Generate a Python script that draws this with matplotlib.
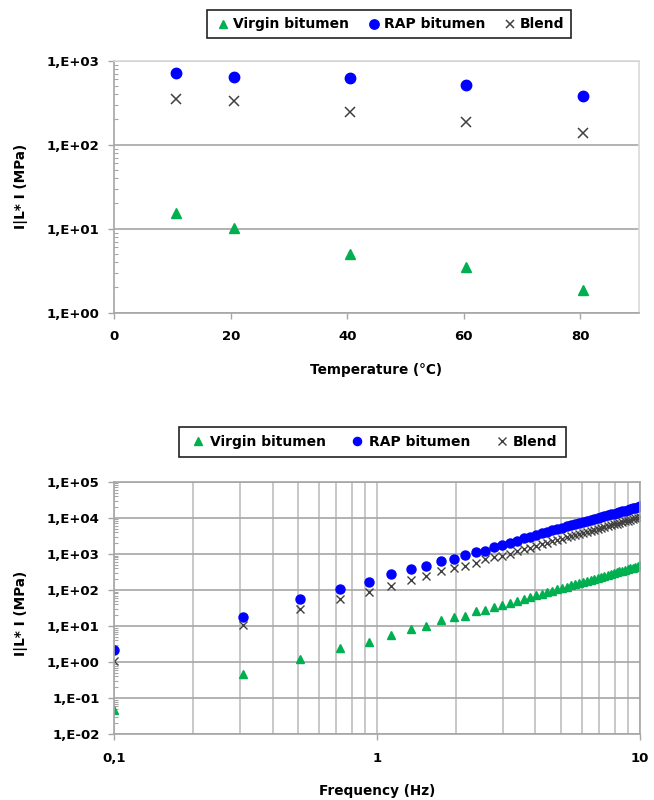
import numpy as np
import matplotlib
matplotlib.use("Agg")
import matplotlib.pyplot as plt
import matplotlib.ticker as mticker

plt.rcParams["font.family"] = ["DejaVu Sans"]
plt.rcParams["font.weight"] = "bold"
plt.rcParams["axes.labelweight"] = "bold"

# ── DATA: temperature sweep ─────────────────────────────────
temperature = [10.6, 20.6, 40.5, 60.4, 80.4]
virgin_T = [15.4, 10.3, 5.0, 3.46, 1.88]
rap_T = [713, 645, 617, 509, 380]
blend_T = [347, 334, 248, 185, 139]

# ── DATA: frequency sweep ───────────────────────────────────
frequency = [0.10, 0.31, 0.51, 0.72, 0.93, 1.13, 1.34, 1.54, 1.75, 1.96,
             2.16, 2.37, 2.58, 2.78, 2.99, 3.19, 3.40, 3.61, 3.81, 4.02,
             4.23, 4.43, 4.64, 4.84, 5.05, 5.26, 5.46, 5.67, 5.88, 6.08,
             6.29, 6.49, 6.70, 6.91, 7.11, 7.32, 7.53, 7.73, 7.94, 8.14,
             8.35, 8.56, 8.76, 8.97, 9.18, 9.38, 9.59, 9.79, 10.00]
virgin_f = [0.048, 0.46, 1.23, 2.45, 3.7, 5.75, 8.3, 10.2, 14.8, 17.4,
            19.5, 25.7, 28.2, 34.7, 38.0, 42.7, 48.0, 56.0, 63.0, 70.5,
            78.0, 86.0, 95.0, 104, 114, 124, 134, 146, 157, 169,
            181, 193, 206, 220, 234, 249, 264, 279, 295, 311,
            328, 344, 361, 381, 400, 418, 438, 458, 479]
rap_f = [2.2, 18, 55, 107, 170, 275, 370, 470, 650, 740,
         910, 1120, 1200, 1590, 1800, 2050, 2300, 2700, 3000, 3350,
         3700, 4070, 4480, 4870, 5300, 5750, 6200, 6700, 7180, 7700,
         8240, 8750, 9330, 9900, 10500, 11200, 11800, 12400, 13100, 13800,
         14500, 15200, 15900, 16700, 17500, 18300, 19100, 19900, 20800]
blend_f = [1.1, 10.5, 29, 55, 87, 132, 186, 240, 325, 410,
           460, 560, 740, 830, 890, 980, 1175, 1336, 1490, 1650,
           1830, 2010, 2220, 2410, 2620, 2850, 3070, 3320, 3570, 3820,
           4090, 4350, 4650, 4930, 5250, 5570, 5890, 6190, 6550, 6900,
           7260, 7600, 7960, 8370, 8790, 9160, 9590, 10000, 10400]

GREEN = "#00b050"
BLUE = "#0000ff"
GREY = "#404040"
GRID = "#a6a6a6"
YLABEL = "I|L* I (MPa)"


def excel_exp(v, pos):
    e = int(round(np.log10(v)))
    return f"1,E{e:+03d}"


def style_axes(ax):
    ax.set_yscale("log")
    ax.yaxis.set_major_formatter(mticker.FuncFormatter(excel_exp))
    ax.yaxis.set_minor_locator(mticker.LogLocator(base=10, subs=np.arange(2, 10)))
    ax.yaxis.set_minor_formatter(mticker.NullFormatter())
    ax.tick_params(axis="y", which="major", direction="out", length=4.5,
                   width=1, color=GRID, pad=6, labelsize=9.5)
    ax.tick_params(axis="y", which="minor", direction="in", length=3,
                   width=0.8, color=GRID)
    ax.tick_params(axis="x", which="major", direction="out", length=4.5,
                   width=1, color=GRID, pad=8, labelsize=9.5)


fig = plt.figure(figsize=(6.54, 8.0), dpi=100)

# ── CHART 1: modulus vs temperature ─────────────────────────
ax1 = fig.add_axes([0.1748, 0.6091, 0.8017, 0.315])
ax1.plot(temperature, virgin_T, "^", color=GREEN, ms=7, label="Virgin bitumen")
ax1.plot(temperature, rap_T, "o", color=BLUE, ms=7.5, label="RAP bitumen")
ax1.plot(temperature, blend_T, "x", color=GREY, ms=6.5, mew=1.1, label="Blend")
ax1.set_xlim(0, 90)
ax1.set_ylim(1, 1000)
ax1.set_xticks([0, 20, 40, 60, 80])
style_axes(ax1)
ax1.grid(axis="y", which="major", color=GRID, lw=1.2)
ax1.spines[["left", "bottom"]].set_color(GRID)
ax1.spines[["top", "right"]].set_color("#d9d9d9")
for s in ax1.spines.values():
    s.set_linewidth(1.2)
ax1.set_xlabel("Temperature (°C)", fontsize=9.8, fontweight="bold")
ax1.xaxis.set_label_coords(0.5, -0.2)
ax1.set_ylabel(YLABEL, fontsize=9.8, fontweight="bold")
ax1.yaxis.set_label_coords(-0.165, 0.5)
leg1 = ax1.legend(loc="center", bbox_to_anchor=(0.524, 1.144), ncol=3,
                  fancybox=False, edgecolor="#222222", framealpha=1,
                  fontsize=10, handletextpad=0.0, columnspacing=1.1,
                  handlelength=1.4, borderpad=0.5, markerscale=0.9)
leg1.get_frame().set_linewidth(1.2)

# ── CHART 2: modulus vs frequency ───────────────────────────
ax2 = fig.add_axes([0.1748, 0.0821, 0.8038, 0.3158])
ax2.plot(frequency, virgin_f, "^", color=GREEN, ms=6, label="Virgin bitumen")
ax2.plot(frequency, rap_f, "o", color=BLUE, ms=6.5, label="RAP bitumen")
ax2.plot(frequency, blend_f, "x", color=GREY, ms=6, mew=1.0, label="Blend")
ax2.set_xscale("log")
ax2.set_xlim(0.1, 10)
ax2.set_ylim(0.01, 1e5)
ax2.xaxis.set_major_locator(mticker.FixedLocator([0.1, 1, 10]))
ax2.xaxis.set_major_formatter(mticker.FixedFormatter(["0,1", "1", "10"]))
ax2.xaxis.set_minor_locator(mticker.LogLocator(base=10, subs=np.arange(2, 10)))
ax2.xaxis.set_minor_formatter(mticker.NullFormatter())
ax2.tick_params(axis="x", which="minor", length=0)
style_axes(ax2)
ax2.grid(axis="y", which="major", color=GRID, lw=1.2)
ax2.grid(axis="x", which="both", color="#bfbfbf", lw=1.2)
ax2.set_axisbelow(True)
for s in ax2.spines.values():
    s.set_color(GRID)
    s.set_linewidth(1.2)
ax2.set_xlabel("Frequency (Hz)", fontsize=9.8, fontweight="bold")
ax2.xaxis.set_label_coords(0.5, -0.195)
ax2.set_ylabel(YLABEL, fontsize=9.8, fontweight="bold")
ax2.yaxis.set_label_coords(-0.165, 0.48)
leg2 = ax2.legend(loc="center", bbox_to_anchor=(0.491, 1.157), ncol=3,
                  fancybox=False, edgecolor="#222222", framealpha=1,
                  fontsize=10, handletextpad=0.0, columnspacing=1.5,
                  handlelength=1.6, borderpad=0.6, markerscale=0.9)
leg2.get_frame().set_linewidth(1.2)

fig.savefig("out.png", dpi=100)
